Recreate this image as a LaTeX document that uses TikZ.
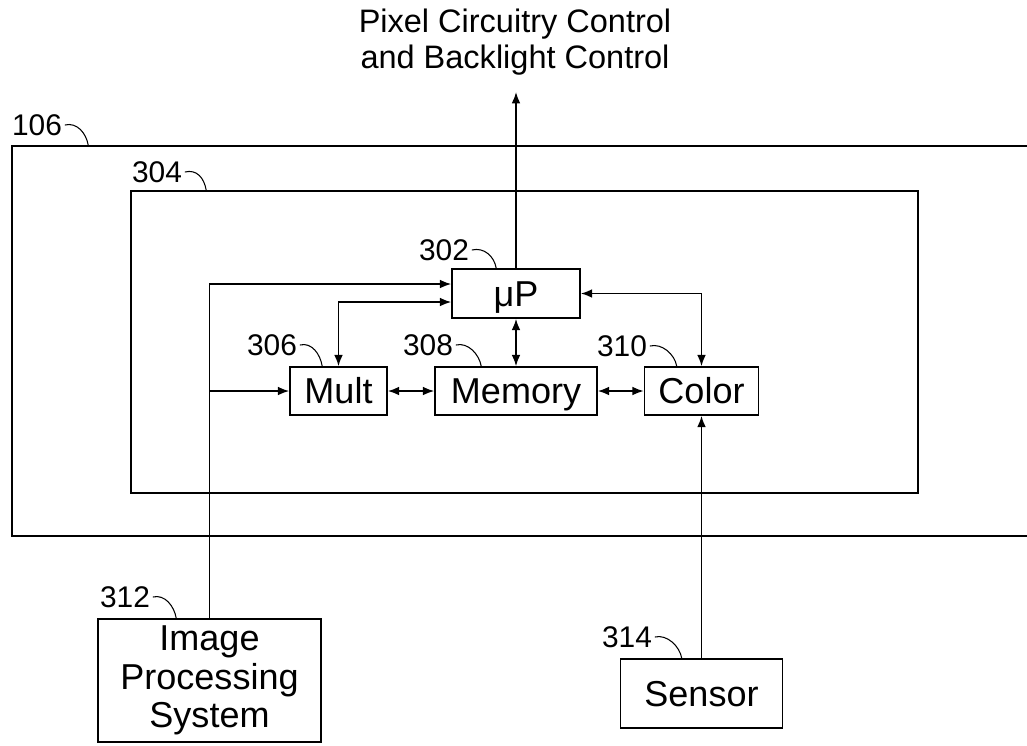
\documentclass[tikz,border=0pt]{standalone}
\usepackage{fontspec}
\setmainfont{Liberation Sans}
\usepackage{tikz}
\usetikzlibrary{arrows.meta}
\usetikzlibrary{calc}
\usetikzlibrary{positioning}

\tikzset{
    blk/.style={draw, line width=0.9pt, inner sep=0pt, align=center, font=\fontsize{20.5}{22}\selectfont},
    oneline/.style={text height=18.4pt, text depth=4pt},
    frame/.style={draw, line width=1pt, inner sep=0pt},
    refnum/.style={inner sep=1.5pt, font=\fontsize{17}{17}\selectfont},
    lead/.style={line width=0.6pt},
    sig/.style={line width=0.9pt, -{Latex[length=6.5pt,width=5pt]}},
    bisig/.style={line width=0.9pt, {Latex[length=6.5pt,width=5pt]}-{Latex[length=6.5pt,width=5pt]}},
}

\begin{document}
\begin{tikzpicture}[x=0.02cm, y=-0.02cm]
    \useasboundingbox (0,0) rectangle (1027,745);

    \node[frame, minimum width=20.6cm, minimum height=7.8cm] (sys) at (527,341) {};
    \node[frame, minimum width=15.74cm, minimum height=6.04cm] (ctl) at (524.5,342) {};

    \node[blk, oneline, minimum width=2.56cm, minimum height=0.98cm] (up) at (516,293.5) {μP};
    \node[blk, oneline, minimum width=1.94cm, minimum height=0.96cm] (mult) at (338.5,391) {Mult};
    \node[blk, oneline, minimum width=3.24cm, minimum height=0.96cm] (mem) at (516,391) {Memory};
    \node[blk, oneline, minimum width=2.28cm, minimum height=0.96cm] (color) at (701.5,391) {Color};
    \node[blk, minimum width=4.46cm, minimum height=2.46cm] (ips) at (209.5,680.5) {Image\\Processing\\System};
    \node[blk, oneline, minimum width=3.24cm, minimum height=1.38cm] (sensor) at (701.5,693.5) {Sensor};

    \node[align=center, inner sep=0pt, font=\fontsize{18.5}{20.5}\selectfont] (out) at (515,42) {Pixel Circuitry Control\\and Backlight Control};
    \coordinate (outtip) at (516,92);

    \draw[sig] (up.north) -- (outtip);
    \draw[sig] (ips.north) |- ($(up.west)+(0,-9.5)$);
    \draw[sig] (ips.north |- mult.west) -- (mult.west);
    \draw[bisig] (mult.north) |- ($(up.west)+(0,8.5)$);
    \draw[bisig] (up) -- (mem);
    \draw[bisig] (up.east) -| (color.north);
    \draw[bisig] (mult) -- (mem);
    \draw[bisig] (mem) -- (color);
    \draw[sig] (sensor) -- (color);

    \node[refnum] (n106) at (37,125) {106};
    \node[refnum] (n304) at (157,172) {304};
    \node[refnum] (n302) at (444,250) {302};
    \node[refnum] (n306) at (272,345) {306};
    \node[refnum] (n308) at (428,345) {308};
    \node[refnum] (n310) at (622,346) {310};
    \node[refnum] (n312) at (125,597) {312};
    \node[refnum] (n314) at (627,637) {314};

    \draw[lead] (n106.east) .. controls +(12,-3) and +(-2,-12) .. ($(sys.north west)+(77,0)$);
    \draw[lead] (n304.east) .. controls +(12,-3) and +(-2,-12) .. ($(ctl.north west)+(76,0)$);
    \draw[lead] (n302.east) .. controls +(12,-3) and +(-2,-12) .. ($(up.north west)+(45,0)$);
    \draw[lead] (n306.east) .. controls +(12,-3) and +(-2,-12) .. ($(mult.north west)+(33,0)$);
    \draw[lead] (n308.east) .. controls +(12,-3) and +(-2,-12) .. ($(mem.north west)+(47,0)$);
    \draw[lead] (n310.east) .. controls +(12,-3) and +(-2,-12) .. ($(color.north west)+(33,0)$);
    \draw[lead] (n312.east) .. controls +(12,-3) and +(-2,-12) .. ($(ips.north west)+(79,0)$);
    \draw[lead] (n314.east) .. controls +(12,-3) and +(-2,-12) .. ($(sensor.north west)+(62,0)$);
\end{tikzpicture}
\end{document}
